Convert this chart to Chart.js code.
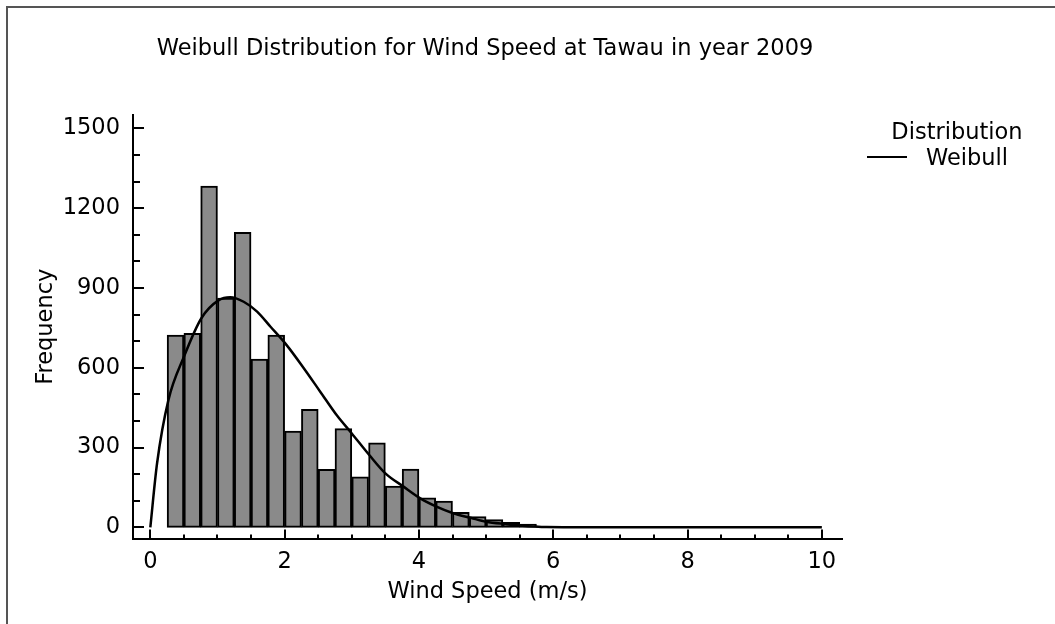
<!DOCTYPE html>
<html>
<head>
<meta charset="utf-8">
<script src="https://cdn.jsdelivr.net/npm/chart.js@4.4.1/dist/chart.umd.min.js"></script>
<style>
  html, body { margin: 0; padding: 0; background: #fff; }
  #wrap { width: 1055px; height: 624px; }
</style>
</head>
<body>
<div id="wrap"><canvas id="chart" width="1055" height="624"></canvas></div>
<script>
// histogram bins (0.25 m/s wide), centres of each bin
const binCenters = [0.375, 0.625, 0.875, 1.125, 1.375, 1.625, 1.875, 2.125, 2.375, 2.625, 2.875,
                    3.125, 3.375, 3.625, 3.875, 4.125, 4.375, 4.625, 4.875, 5.125, 5.375, 5.625, 5.875];
const frequencies = [723, 729, 1283, 862, 1109, 632, 723, 362, 444, 218, 371,
                     190, 318, 155, 219, 111, 99, 56, 40, 29, 19, 12, 3];

// fitted Weibull curve
const fitSpeed = [0, 0.1, 0.27, 0.5, 0.76, 1.02, 1.19, 1.39, 1.59, 1.79, 2.03, 2.28, 2.53, 2.78, 3.0,
                  3.26, 3.5, 3.77, 4.02, 4.27, 4.5, 4.78, 5.0, 5.3, 5.5, 5.9, 6.5, 10];
const fitFrequency = [0, 240, 479, 641, 786, 854, 865, 848, 811, 754, 685, 600, 510, 420, 353,
                      272, 203, 153, 109, 77, 54, 35, 21, 12, 7, 1, 0, 0];

const xTicks = [0, 2, 4, 6, 8, 10];
const yTicks = [0, 300, 600, 900, 1200, 1500];

const chartTitle = "Weibull Distribution for Wind Speed at Tawau in year 2009";
const xTitle = "Wind Speed (m/s)";
const yTitle = "Frequency";
const legendTitle = "Distribution";
const legendLabel = "Weibull";

const FONT = '"DejaVu Sans", sans-serif';
const FSIZE = 22.5;
Chart.defaults.color = "#000";
Chart.defaults.font.family = FONT;

// title, legend, frame and inward tick marks
const decor = {
    id: "decor",
    afterDraw(chart) {
        const ctx = chart.ctx;
        const xs = chart.scales.x, ys = chart.scales.y;
        ctx.save();

        // frame at top and left
        ctx.strokeStyle = "#555";
        ctx.lineWidth = 2;
        ctx.beginPath();
        ctx.moveTo(7, 624);
        ctx.lineTo(7, 7);
        ctx.lineTo(1055, 7);
        ctx.stroke();

        // ticks pointing into the plot
        ctx.strokeStyle = "#000";
        ctx.lineWidth = 2;
        ctx.beginPath();
        for (let i = 0; i <= 20; i++) {
            const px = Math.round(xs.getPixelForValue(i * 0.5));
            const len = i % 4 === 0 ? 9 : 4;
            ctx.moveTo(px, xs.top);
            ctx.lineTo(px, xs.top - len);
        }
        for (let i = 0; i <= 15; i++) {
            const py = Math.round(ys.getPixelForValue(i * 100));
            const len = i % 3 === 0 ? 11 : 7;
            ctx.moveTo(ys.right, py);
            ctx.lineTo(ys.right + len, py);
        }
        ctx.stroke();

        // title
        ctx.fillStyle = "#000";
        ctx.font = FSIZE + "px " + FONT;
        ctx.textAlign = "center";
        ctx.textBaseline = "alphabetic";
        ctx.fillText(chartTitle, 485, 55);

        // legend
        ctx.fillText(legendTitle, 957, 139);
        ctx.textAlign = "left";
        ctx.fillText(legendLabel, 926, 165);
        ctx.beginPath();
        ctx.moveTo(867, 157);
        ctx.lineTo(907, 157);
        ctx.stroke();

        ctx.restore();
    }
};

new Chart(document.getElementById("chart"), {
    data: {
        datasets: [
            {
                type: "line",
                label: legendLabel,
                data: fitSpeed.map((x, i) => ({ x: x, y: fitFrequency[i] })),
                borderColor: "#000",
                borderWidth: 2.5,
                pointRadius: 0,
                cubicInterpolationMode: "monotone",
                order: 0
            },
            {
                type: "bar",
                label: "Frequency",
                data: binCenters.map((x, i) => ({ x: x, y: frequencies[i] })),
                backgroundColor: "#8a8a8a",
                borderColor: "#000",
                borderWidth: 2,
                borderSkipped: false,
                barPercentage: 1,
                categoryPercentage: 1,
                order: 1
            }
        ]
    },
    options: {
        responsive: false,
        animation: false,
        layout: { padding: { left: 0, top: 115, right: 213, bottom: 0 } },
        plugins: {
            legend: { display: false },
            title: { display: false },
            tooltip: { enabled: false }
        },
        scales: {
            x: {
                type: "linear",
                offset: false,
                min: -0.258,
                max: 10.3,
                afterFit: s => { s.height = 85.5; },
                afterBuildTicks: s => { s.ticks = xTicks.map(v => ({ value: v })); },
                grid: { display: false, drawTicks: false, offset: false },
                border: { display: true, color: "#000", width: 2 },
                ticks: { padding: 10, maxRotation: 0, autoSkip: false, font: { size: FSIZE },
                         callback: v => String(v) },
                title: { display: true, text: xTitle, font: { size: FSIZE }, padding: { top: 0, bottom: 18 } }
            },
            y: {
                type: "linear",
                min: -42,
                max: 1550,
                afterFit: s => { s.width = 133; },
                afterBuildTicks: s => { s.ticks = yTicks.map(v => ({ value: v })); },
                grid: { display: false, drawTicks: false },
                border: { display: true, color: "#000", width: 2 },
                ticks: { padding: 13, autoSkip: false, font: { size: FSIZE },
                         callback: v => String(v) },
                title: { display: true, text: yTitle, font: { size: FSIZE }, padding: { top: 33, bottom: 0 } }
            }
        }
    },
    plugins: [decor]
});
</script>
</body>
</html>
